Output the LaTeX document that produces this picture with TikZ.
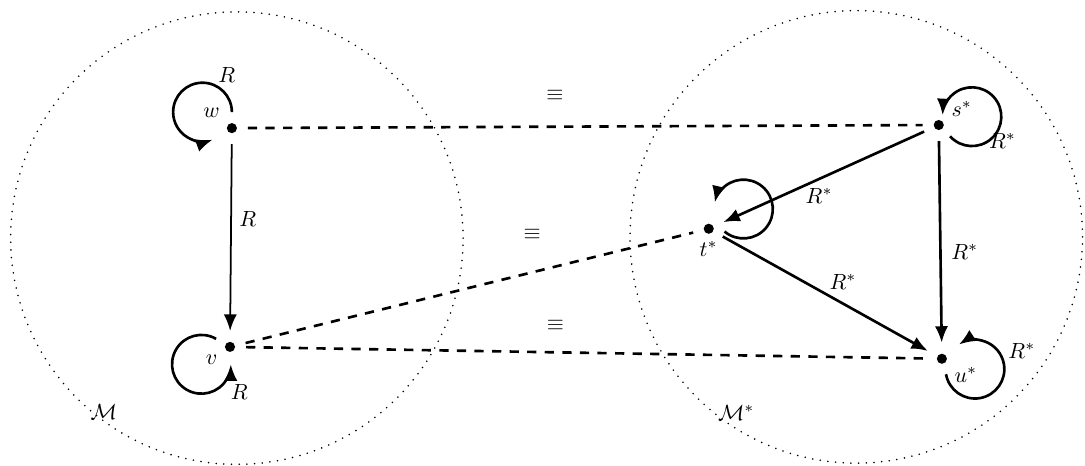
\documentclass[tikz,border=0pt]{standalone}
\usepackage{amsmath, amssymb}
\usepackage{tikz}
\usetikzlibrary{arrows.meta}

\begin{document}
\begin{tikzpicture}[
  >={Latex[length=7.5pt,width=6pt]},
  pt/.style={circle, fill=black, inner sep=0pt, minimum size=4.6pt, outer sep=5pt},
  rel/.style={->, very thick},
  refl/.style={->, very thick},
  eqv/.style={very thick, dash pattern=on 4.2pt off 3.8pt},
  model/.style={line width=0.8pt, line cap=round, dash pattern=on 0pt off 3.5pt},
  lbl/.style={label distance=-5pt}
]
\useasboundingbox (0,0) rectangle (17.36,7.44);

%% Models
\draw[model] (3.79,3.63) circle (3.62);
\draw[model] (13.70,3.65) circle (3.62);
\node (mlab) at (1.66,0.85) {$\mathcal{M}$};
\node (mslab) at (11.78,0.83) {$\mathcal{M}^*$};

%% Worlds
\node[pt, label={[lbl]150:$w$}] (w) at (3.71,5.39) {};
\node[pt, label={[lbl]190:$v$}] (v) at (3.68,1.89) {};
\node[pt, label={[lbl]5:$s^*$}] (s) at (15.02,5.44) {};
\node[pt, label={[lbl]-90:$t^*$}] (t) at (11.34,3.78) {};
\node[pt, label={[lbl]-10:$u^*$}] (u) at (15.07,1.70) {};

%% Accessibility
\draw[->, thick] (w) -- node[pos=0.4, right] {$R$} (v);
\draw[rel] (s) -- node[pos=0.6, below right=-3pt] {$R^*$} (t);
\draw[rel] (s) -- node[pos=0.55, right=1pt] {$R^*$} (u);
\draw[rel] (t) -- node[pos=0.5, above right=-2pt] {$R^*$} (u);

%% Reflexive loops
\draw[refl] (w.north) arc[start angle=0, end angle=290, radius=0.47];
\draw[refl] (v.150) arc[start angle=60, end angle=360, radius=0.47];
\draw[refl] (s.-45) arc[start angle=222, end angle=537, radius=0.47];
\draw[refl] (t.-10) arc[start angle=230, end angle=527, radius=0.47];
\draw[refl] (u.-75) arc[start angle=190, end angle=483, radius=0.47];
\node (rw) at ([shift={(-0.08,0.85)}]w) {$R$};
\node (rv) at ([shift={(0.15,-0.72)}]v) {$R$};
\node (rs) at ([shift={(1.02,-0.25)}]s) {$R^*$};
\node (ru) at ([shift={(1.28,0.12)}]u) {$R^*$};

%% Bisimulation
\draw[eqv] (w) -- node[pos=0.455, above=8pt] {$\equiv$} (s);
\draw[eqv] (v) -- node[pos=0.64, above=11pt] {$\equiv$} (t);
\draw[eqv] (v) -- node[pos=0.455, above=6pt] {$\equiv$} (u);
\end{tikzpicture}
\end{document}
